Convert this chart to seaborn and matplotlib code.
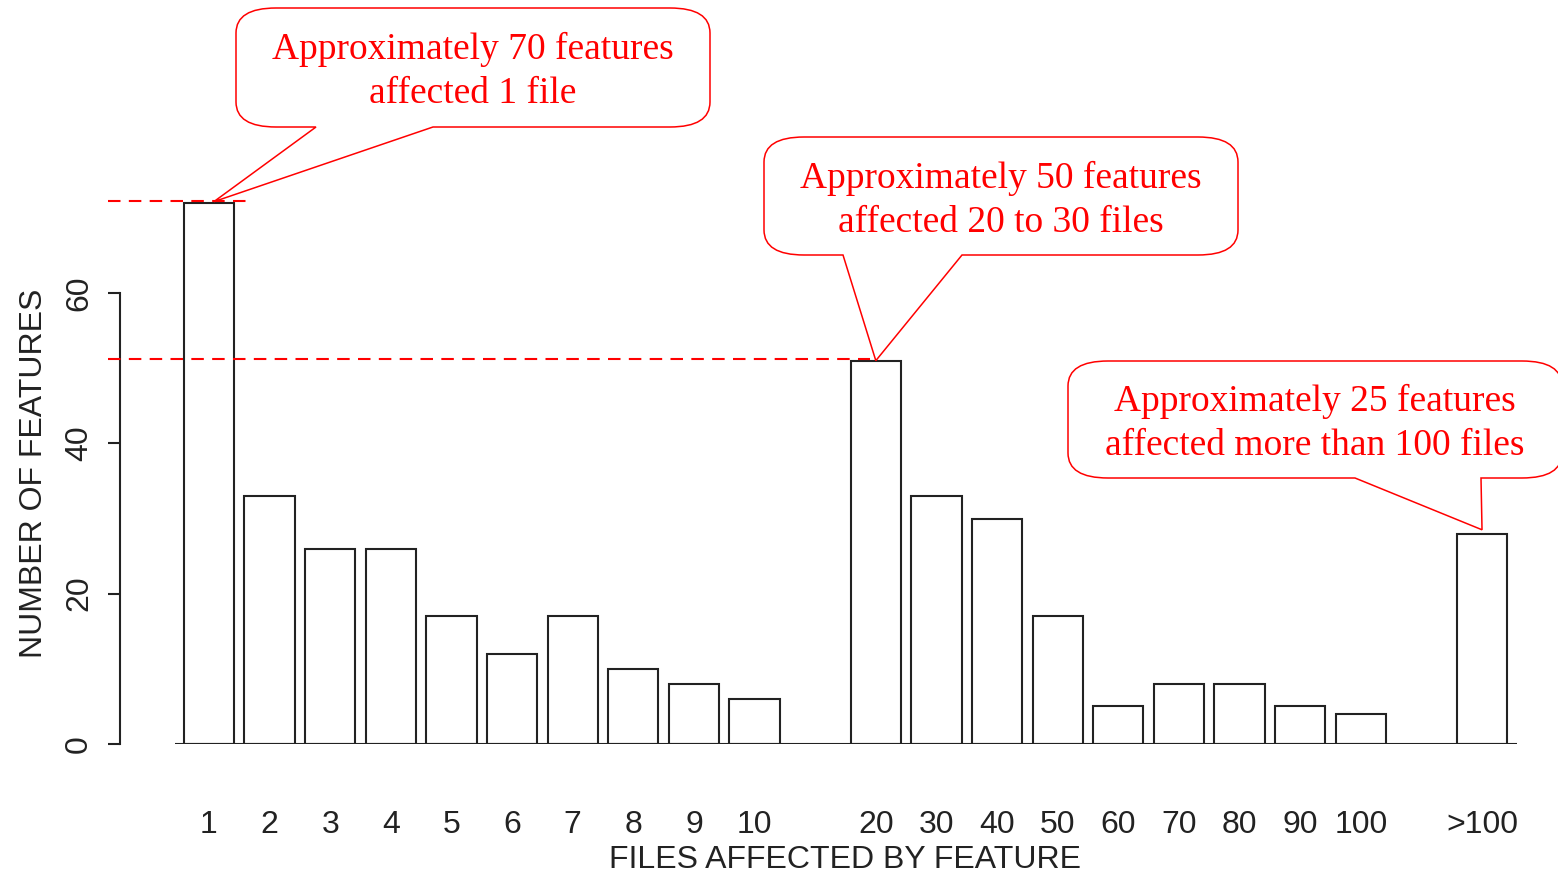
import matplotlib
matplotlib.use("Agg")
import matplotlib.pyplot as plt
import matplotlib.path as mpath
import matplotlib.patches as mpatches
from matplotlib.transforms import IdentityTransform
import seaborn as sns
import pandas as pd

# data
files = ["1", "2", "3", "4", "5", "6", "7", "8", "9", "10",
         "20", "30", "40", "50", "60", "70", "80", "90", "100", ">100"]
features = [72, 33, 26, 26, 17, 12, 17, 10, 8, 6,
            51, 33, 30, 17, 5, 8, 8, 5, 4, 28]
y_ticks = [0, 20, 40, 60]
callout_texts = ["Approximately 70 features\naffected 1 file",
                 "Approximately 50 features\naffected 20 to 30 files",
                 "Approximately 25 features\naffected more than 100 files"]
callout_targets = ["1", "20", ">100"]
guide_targets = ["1", "20"]

# empty slots between the groups, like the R barplot
order = files[:10] + [""] + files[10:19] + [" "] + files[19:]
df = pd.DataFrame({"files": files, "features": features})

sns.set_theme(style="white")
plt.rcParams["font.family"] = ["Liberation Sans", "DejaVu Sans"]

W, H = 1558, 872
INK = "#222222"
fig = plt.figure(figsize=(W / 100, H / 100), dpi=100)
ax = fig.add_axes([120 / W, (H - 744) / H, 1 - 120 / W, 744 / H])

sns.barplot(data=df, x="files", y="features", order=order, width=0.83,
            color="white", saturation=1, edgecolor=INK, linewidth=1.5, ax=ax)

# pixel layout
slot_px, first_px = 60.62, 209
unit_px = 451 / 60
ax.set_xlim((120 - first_px) / slot_px, (W - first_px) / slot_px)
ax.set_ylim(0, 744 / unit_px)

for s in ["top", "right", "bottom"]:
    ax.spines[s].set_visible(False)
ax.spines["left"].set_bounds(0, 60)
ax.spines["left"].set_linewidth(1.5)
ax.spines["left"].set_color(INK)
ax.set_yticks(y_ticks)
ax.tick_params(axis="y", left=True, length=8.6, width=1.5, color=INK, pad=10,
               labelsize=23, labelcolor=INK, labelrotation=90)
for lab in ax.get_yticklabels():
    lab.set_va("center")
ax.tick_params(axis="x", bottom=False, length=0, pad=47.5, labelsize=23, labelcolor=INK)

ax.hlines(0, -0.56, len(order) - 1 + 0.58, colors=INK, lw=1.5)

ax.set_xlabel("FILES AFFECTED BY FEATURE", fontsize=23, color=INK)
ax.xaxis.set_label_coords(845 / W, 1 - 845 / H, transform=fig.transFigure)
ax.set_ylabel("NUMBER OF FEATURES", fontsize=23, color=INK)
ax.yaxis.set_label_coords(49 / W, 1 - 473 / H, transform=fig.transFigure)

# dashed guides from the axis to the bar tops
value_of = dict(zip(files, features))
guide_ends = [0.68, -0.09]
guide_lift = [0.3, 0.2]
for lab, end, lift in zip(guide_targets, guide_ends, guide_lift):
    pos = order.index(lab)
    ax.hlines(value_of[lab] + lift, (108 - first_px) / slot_px, pos + end, colors="red",
              linestyles=(0, (6, 4)), lw=1.5, clip_on=False, zorder=5)


def callout(box, base, tip, text, rx=40, ry=25):
    # box = (left, top, right, bottom) in image pixels, tip in display coords
    L, T, R, B = box[0], H - box[1], box[2], H - box[3]
    b1, b2 = base
    tx, ty = tip
    P = mpath.Path
    verts = [(L + rx, B), (b1, B), (tx, ty), (b2, B), (R - rx, B),
             (R, B), (R, B + ry), (R, T - ry),
             (R, T), (R - rx, T), (L + rx, T),
             (L, T), (L, T - ry), (L, B + ry),
             (L, B), (L + rx, B), (L + rx, B)]
    codes = [P.MOVETO, P.LINETO, P.LINETO, P.LINETO, P.LINETO,
             P.CURVE3, P.CURVE3, P.LINETO,
             P.CURVE3, P.CURVE3, P.LINETO,
             P.CURVE3, P.CURVE3, P.LINETO,
             P.CURVE3, P.CURVE3, P.CLOSEPOLY]
    patch = mpatches.PathPatch(P(verts, codes), facecolor="white", edgecolor="red",
                               lw=1.1, transform=IdentityTransform(), zorder=10)
    fig.add_artist(patch)
    fig.text((L + R) / 2, (T + B) / 2 - 4, text, transform=IdentityTransform(),
             ha="center", va="center", multialignment="center", color="red",
             fontsize=27, family=["Liberation Serif", "DejaVu Serif"],
             linespacing=1.36, zorder=11)


boxes = [(236, 8, 710, 127), (764, 137, 1238, 255), (1068, 361, 1562, 478)]
bases = [(316, 433), (843, 962), (1355, 1481)]
tip_shift = [0.08, 0.0, 0.0]
tip_lift = [0.15, 0.0, 0.5]
for box, base, lab, shift, lift, text in zip(boxes, bases, callout_targets, tip_shift,
                                             tip_lift, callout_texts):
    tip = ax.transData.transform((order.index(lab) + shift, value_of[lab] + lift))
    callout(box, base, tip, text)

fig.savefig("out.png", dpi=100)
plt.close(fig)
